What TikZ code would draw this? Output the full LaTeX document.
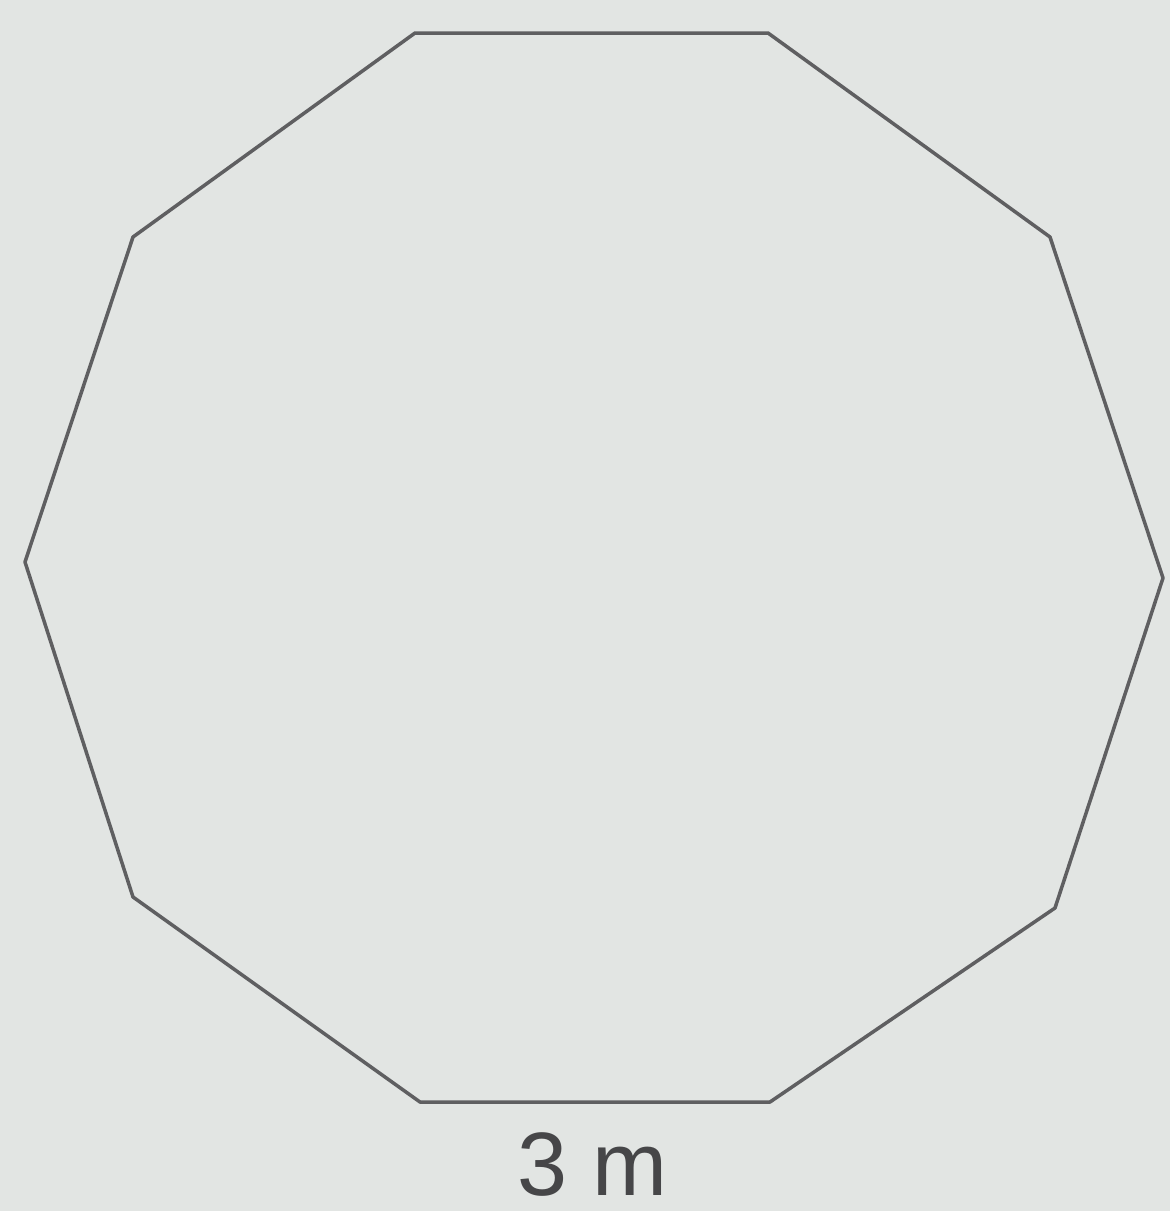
\documentclass[tikz,border=0pt]{standalone}
\usepackage{fontspec}
\setmainfont{Liberation Sans}
\definecolor{bg}{RGB}{226,229,227}
\definecolor{ink}{RGB}{95,95,97}
\definecolor{txt}{RGB}{70,70,72}
\begin{document}
\begin{tikzpicture}[x=1pt,y=-1pt,
  edge/.style={draw=ink,line width=3.5pt,line join=round},
  lbl/.style={text=txt,font=\fontsize{90}{100}\selectfont,anchor=base,inner sep=0pt}]
\fill[bg] (0,0) rectangle (1170,1211);
\useasboundingbox (0,0) rectangle (1170,1211);
\coordinate (v1) at (415,33);
\coordinate (v2) at (768,33);
\coordinate (v3) at (1050,237);
\coordinate (v4) at (1163,578);
\coordinate (v5) at (1055,908);
\coordinate (v6) at (770,1102);
\coordinate (v7) at (420,1102);
\coordinate (v8) at (133,897);
\coordinate (v9) at (25,562);
\coordinate (v10) at (133,237);
\draw[edge] (v1) -- (v2) -- (v3) -- (v4) -- (v5) -- (v6) -- (v7) -- (v8) -- (v9) -- (v10) -- cycle;
\node[lbl] (side) at (593,1195) {3 m};
\end{tikzpicture}
\end{document}
